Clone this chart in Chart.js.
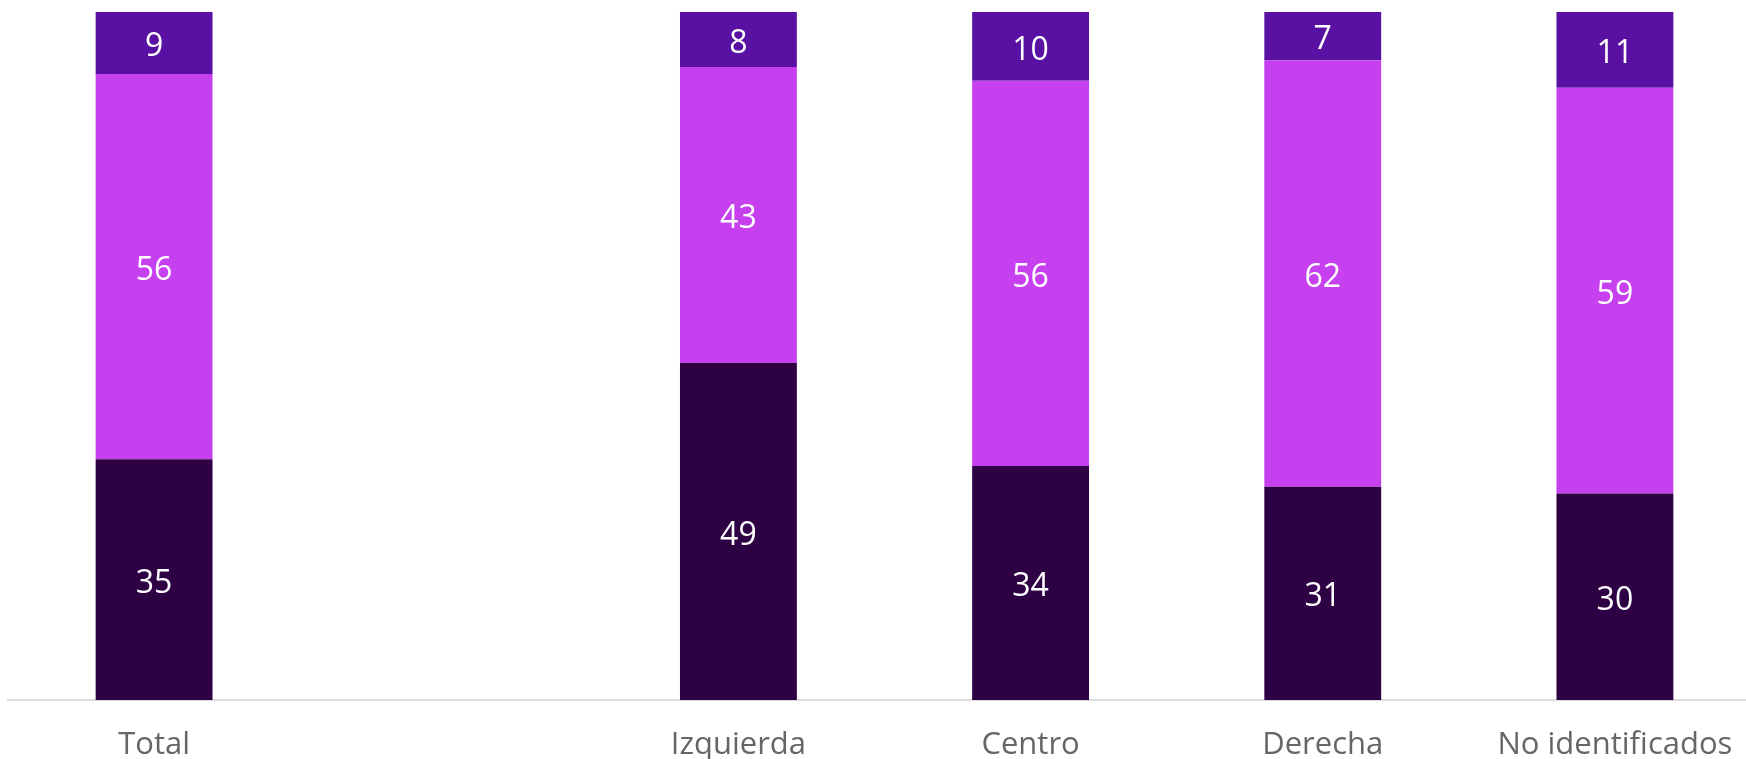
<!DOCTYPE html>
<html>
<head>
<meta charset="utf-8">
<script src="https://cdn.jsdelivr.net/npm/chart.js@4"></script>
<style>
  html, body { margin: 0; padding: 0; background: #fff; overflow: hidden; }
</style>
</head>
<body>
<canvas id="ideologyChart" width="1761" height="759"></canvas>
<script>
const categories = ['Total', '', 'Izquierda', 'Centro', 'Derecha', 'No identificados'];
const bottomValues = [35, null, 49, 34, 31, 30];
const middleValues = [56, null, 43, 56, 62, 59];
const topValues = [9, null, 8, 10, 7, 11];

// white numbers in the middle of each segment
const segmentLabels = {
    id: 'segmentLabels',
    afterDatasetsDraw(chart) {
        const c = chart.ctx;
        c.save();
        c.fillStyle = '#ffffff';
        c.font = '32px "Open Sans"';
        c.textAlign = 'center';
        c.textBaseline = 'middle';
        chart.data.datasets.forEach((ds, i) => {
            chart.getDatasetMeta(i).data.forEach((bar, j) => {
                const v = ds.data[j];
                if (v == null) return;
                const p = bar.getProps(['x', 'y', 'base'], true);
                c.fillText(String(v), p.x, (p.y + p.base) / 2 + 4);
            });
        });
        c.restore();
    }
};

const ctx = document.getElementById('ideologyChart').getContext('2d');
const ideologyChart = new Chart(ctx, {
    type: 'bar',
    data: {
        labels: categories,
        datasets: [{
            data: bottomValues,
            backgroundColor: '#2e0044'
        }, {
            data: middleValues,
            backgroundColor: '#c640f0'
        }, {
            data: topValues,
            backgroundColor: '#5811a2'
        }]
    },
    options: {
        responsive: false,
        animation: false,
        layout: {
            padding: { left: 8, top: 12, right: 0, bottom: 0 }
        },
        datasets: {
            bar: {
                barPercentage: 0.4,
                categoryPercentage: 1.0
            }
        },
        plugins: {
            legend: { display: false },
            tooltip: { enabled: false }
        },
        scales: {
            x: {
                stacked: true,
                grid: { display: false },
                border: { display: true, color: '#dddddd', width: 2 },
                afterFit(scale) { scale.height = 59; },
                ticks: {
                    color: '#666666',
                    padding: 19,
                    maxRotation: 0,
                    autoSkip: false,
                    font: { family: 'Open Sans', size: 31 }
                }
            },
            y: {
                stacked: true,
                display: false,
                min: 0,
                max: 100
            }
        }
    },
    plugins: [segmentLabels]
});
</script>
</body>
</html>
